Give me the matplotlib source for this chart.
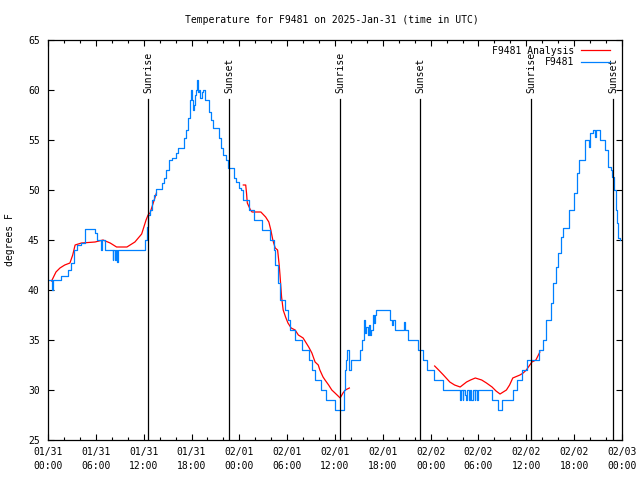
import numpy as np
import matplotlib
matplotlib.use("Agg")
import matplotlib.pyplot as plt

# hours since 2025-01-31 00:00 UTC
blue_h = [0.0, 0.55, 0.65, 1.6, 2.5, 2.9, 3.2, 3.6, 4.1, 4.6, 5.9, 6.1, 6.6, 6.75, 7.1,
          8.1, 8.2, 8.35, 8.5, 8.65, 8.75, 12.2, 12.45, 12.6, 12.8, 13.05, 13.3, 13.55,
          14.3, 14.5, 14.8, 15.2, 15.6, 16.0, 16.3, 17.1, 17.3, 17.55, 17.75, 17.9, 18.0,
          18.15, 18.3, 18.45, 18.6, 18.75, 18.85, 19.0, 19.1, 19.35, 19.5, 19.65, 20.2,
          20.45, 20.75, 21.4, 21.7, 22.0, 22.3, 22.6, 23.3, 23.6, 23.9, 24.2, 24.4, 25.2,
          25.8, 26.8, 27.8, 28.3, 28.5, 28.9, 29.1, 29.7, 30.1, 30.3, 31.0, 31.8, 32.7,
          33.1, 33.5, 34.2, 34.9, 36.0, 37.1, 37.2, 37.4, 37.55, 37.7, 37.8, 37.95, 39.1,
          39.35, 39.7, 39.8, 39.95, 40.1, 40.25, 40.4, 40.55, 40.8, 40.9, 41.0, 41.2,
          42.9, 43.1, 43.3, 43.5, 44.6, 44.8, 45.2, 46.4, 47.0, 47.5, 48.4, 49.5, 51.7,
          51.8, 52.0, 52.1, 52.3, 52.45, 52.6, 52.75, 52.9, 53.1, 53.3, 53.5, 53.6, 53.8,
          53.9, 55.7, 56.4, 56.9, 58.3, 58.8, 59.5, 60.1, 61.6, 62.1, 62.5, 63.1, 63.4,
          63.7, 64.0, 64.35, 64.6, 65.3, 66.0, 66.4, 66.6, 67.3, 67.8, 68.0, 68.3, 68.6,
          68.75, 69.2, 69.9, 70.3, 70.6, 70.8, 71.0, 71.2, 71.35, 71.55, 71.8]
blue_t = [41.0, 40.0, 41.0, 41.4, 42.0, 42.7, 44.0, 44.5, 44.7, 46.1, 45.7, 45.0, 44.0, 45.0, 44.0,
          43.0, 44.0, 43.0, 44.0, 42.8, 44.0, 45.0, 46.3, 47.5, 48.0, 49.0, 49.5, 50.1,
          50.7, 51.2, 52.0, 53.0, 53.2, 53.7, 54.2, 55.2, 56.0, 57.2, 59.0, 60.0, 59.0,
          58.0, 58.5, 59.5, 60.0, 61.0, 59.8, 60.0, 59.2, 59.8, 60.0, 59.0, 57.8,
          57.0, 56.2, 55.2, 54.2, 53.5, 53.0, 52.2, 51.2, 50.8, 50.2, 50.0, 49.0, 48.0,
          47.0, 46.0, 45.0, 44.0, 42.5, 40.7, 39.0, 38.0, 37.0, 36.0, 35.0, 34.0, 33.0,
          32.0, 31.0, 30.0, 29.0, 28.0, 30.0, 32.0, 33.0, 34.0, 33.5, 32.0, 33.0, 34.0,
          35.0, 37.0, 35.7, 36.3, 35.5, 36.5, 35.5, 36.0, 37.5, 36.7, 37.5, 38.0,
          37.0, 36.5, 37.0, 36.0, 36.8, 36.0, 35.0, 34.0, 33.0, 32.0, 31.0, 30.0, 29.0,
          30.0, 29.0, 30.0, 29.5, 29.0, 30.0, 29.0, 30.0, 29.0, 30.0, 29.0, 30.0, 29.0,
          30.0, 29.0, 28.0, 29.0, 30.0, 31.0, 32.0, 33.0, 34.0, 35.0, 37.0, 38.7, 40.7,
          42.3, 43.7, 45.3, 46.2, 48.0, 49.7, 51.7, 53.0, 55.0, 54.3, 55.7, 56.0, 55.3,
          56.0, 55.0, 54.0, 52.3, 52.0, 51.3, 50.0, 48.0, 46.7, 45.2, 45.0]

nan = float("nan")
red_h = [0.45, 1.0, 1.5, 2.1, 2.75, 3.1, 3.4, 4.2, 5.9, 6.9, 7.8, 8.6, 9.9, 10.9, 11.75,
         12.3, 12.55, 12.8, 13.2, 13.6, nan,
         24.5, 24.8, 24.9, 25.0, 25.4, 25.6, 26.7, 27.3, 27.7, 27.95, 28.2, 28.5, 28.8,
         29.0, 29.1, 29.3, 29.5, 29.8, 30.1, 30.5, 31.0, 31.4, 32.0, 32.7, 33.1, 33.5,
         33.9, 34.1, 34.5, 34.75, 35.2, 35.6, 36.0, 36.65, 37.0, 37.3, 37.8, nan,
         48.5, 49.0, 49.6, 50.4, 51.0, 51.7, 52.5, 53.0, 53.6, 54.4, 55.0, 55.7, 56.2,
         56.7, 57.5, 57.9, 58.3, 59.2, 59.6, 60.0, 60.7, 61.2, 61.7]
red_t = [40.9, 41.8, 42.2, 42.5, 42.7, 43.5, 44.5, 44.7, 44.8, 45.0, 44.7, 44.3, 44.3, 44.8, 45.6,
         47.0, 47.5, 47.7, 48.7, 49.7, nan,
         50.5, 50.5, 49.7, 48.7, 48.0, 47.8, 47.8, 47.3, 46.8, 46.0, 45.0, 44.2, 44.0,
         42.5, 41.5, 39.3, 38.0, 37.3, 36.7, 36.2, 36.0, 35.5, 35.2, 34.3, 33.7, 32.8,
         32.5, 32.0, 31.3, 31.0, 30.5, 30.0, 29.7, 29.2, 29.7, 30.0, 30.2, nan,
         32.4, 32.0, 31.5, 30.8, 30.5, 30.3, 30.8, 31.0, 31.2, 31.0, 30.7, 30.3, 29.9,
         29.6, 30.0, 30.5, 31.2, 31.5, 31.7, 32.0, 32.8, 33.0, 33.8]

sun_h = [12.54, 22.7, 36.63, 46.66, 60.59, 70.87]
sun_labels = ["Sunrise", "Sunset", "Sunrise", "Sunset", "Sunrise", "Sunset"]

xtick_h = list(range(0, 73, 6))
xtick_labels = ["01/31\n00:00", "01/31\n06:00", "01/31\n12:00", "01/31\n18:00",
                "02/01\n00:00", "02/01\n06:00", "02/01\n12:00", "02/01\n18:00",
                "02/02\n00:00", "02/02\n06:00", "02/02\n12:00", "02/02\n18:00",
                "02/03\n00:00"]

plt.rcParams['font.family'] = ['DejaVu Sans Mono']
plt.rcParams['font.size'] = 7

fig = plt.figure(figsize=(6.4, 4.8), dpi=100)
ax = fig.add_axes([48/640, 40/480, 574/640, 400/480])

ax.plot(red_h, red_t, color='#ff0000', lw=0.9, label='F9481 Analysis')
ax.plot(blue_h, blue_t, color='#0080ff', lw=0.9, drawstyle='steps-post', label='F9481')

# sunrise / sunset markers
for h, lab in zip(sun_h, sun_labels):
    ax.plot([h, h], [25, 59.1], color='black', lw=0.9)
    ax.text(h, 59.7, lab, rotation=90, ha='center', va='bottom', fontsize=7)

ax.set_xlim(0, 72)
ax.set_ylim(25, 65)
ax.set_xticks(xtick_h)
ax.set_xticklabels(xtick_labels)
for lbl in ax.get_xticklabels():
    lbl.set_linespacing(1.45)
ax.set_xticks([h for h in range(0, 73, 2) if h % 6], minor=True)
ax.set_yticks(range(25, 66, 5))
ax.tick_params(which='both', direction='in', top=True, right=True, width=0.8)
ax.tick_params(which='major', length=4.5)
ax.tick_params(which='minor', length=2.5)
ax.tick_params(axis='x', pad=5)
ax.tick_params(axis='y', pad=6)
for s in ax.spines.values():
    s.set_linewidth(0.9)

leg = ax.legend(loc='upper right', bbox_to_anchor=(0.9855, 0.9955), frameon=False,
                markerfirst=False, handlelength=3.0, handletextpad=0.7,
                borderaxespad=0.0, labelspacing=0.15, fontsize=7)
for t in leg.get_texts():
    t.set_ha('right')

fig.text(332/640, 1 - 20/480, 'Temperature for F9481 on 2025-Jan-31 (time in UTC)',
         ha='center', va='center', fontsize=7)
fig.text(10/640, 0.5, 'degrees F', rotation=90, ha='center', va='center', fontsize=7)

fig.savefig('out.png', dpi=100)
